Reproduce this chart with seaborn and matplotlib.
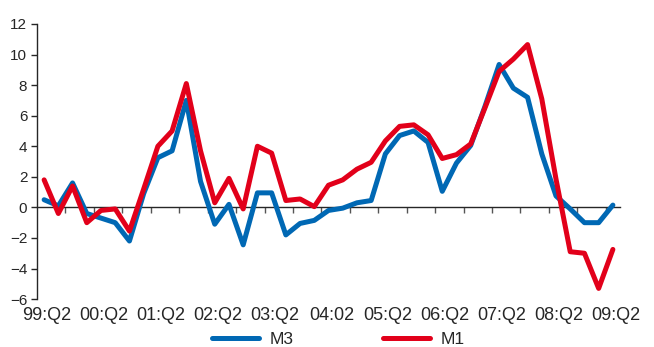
import numpy as np
import seaborn as sns
import pandas as pd
import matplotlib.pyplot as plt

# quarterly growth rates, 99:Q2 .. 09:Q2
m3 = [0.5, 0.1, 1.6, -0.4, -0.7, -1.0, -2.2, 0.9, 3.25, 3.7, 7.0, 1.7, -1.1, 0.2, -2.45,
      0.95, 0.95, -1.8, -1.05, -0.85, -0.2, -0.05, 0.3, 0.45, 3.5, 4.7, 5.0, 4.25, 1.05,
      2.9, 4.05, 6.6, 9.35, 7.8, 7.2, 3.5, 0.75, -0.1, -1.0, -1.0, 0.15]
m1 = [1.8, -0.4, 1.4, -1.0, -0.2, -0.1, -1.55, 1.2, 4.0, 5.0, 8.1, 3.7, 0.3, 1.9, -0.1,
      4.0, 3.55, 0.45, 0.55, 0.05, 1.45, 1.8, 2.5, 2.95, 4.35, 5.3, 5.4, 4.75, 3.2,
      3.45, 4.15, 6.5, 8.9, 9.7, 10.65, 7.1, 1.85, -2.9, -3.0, -5.3, -2.75]
quarters = np.arange(len(m3))
tick_labels = ['99:Q2', '00:Q2', '01:Q2', '02:Q2', '03:Q2', '04:02',
               '05:Q2', '06:Q2', '07:Q2', '08:Q2', '09:Q2']

df = pd.DataFrame({'q': np.concatenate([quarters, quarters]),
                   'value': m3 + m1,
                   'series': ['M3'] * len(m3) + ['M1'] * len(m1)})

sns.set_style('ticks')
plt.rcParams['font.family'] = ['Liberation Sans Narrow', 'Liberation Sans', 'DejaVu Sans']

fig = plt.figure(figsize=(6.54, 3.47), dpi=100)
ax = fig.add_axes([0.0566, 0.138, 0.8914, 0.793])

sns.lineplot(data=df, x='q', y='value', hue='series', hue_order=['M3', 'M1'],
             palette={'M3': '#0068b4', 'M1': '#e2001a'}, linewidth=3.6, ax=ax)

ax.set_xlim(-0.5, 40.5)
ax.set_ylim(-6, 12)
ax.set_yticks(range(-6, 13, 2))
ax.set_xticks(quarters[::4] + 0.2)
ax.set_xticklabels(tick_labels)
ax.set_xlabel('')
ax.set_ylabel('')
for s in ['top', 'right', 'bottom']:
    ax.spines[s].set_visible(False)
ax.spines['left'].set_linewidth(1.0)
ax.tick_params(axis='x', length=0, pad=6, labelsize=13)
ax.tick_params(axis='y', length=4, width=1, pad=3, labelsize=11)

# zero line with tick marks between every second quarter
zero = ax.secondary_xaxis(1 / 3)
zero.set_xticks(np.arange(1.5, 40, 2))
zero.tick_params(direction='out', length=4, width=1, color='#555555', labelbottom=False)
zero.spines['bottom'].set_linewidth(1.0)

sns.move_legend(ax, 'center', bbox_to_anchor=(0.517, -0.145), ncol=2, frameon=False,
                title=None, fontsize=12.5, handlelength=2.7, handletextpad=0.6,
                columnspacing=5.2, borderpad=0)

fig.savefig('out.png', dpi=100)
